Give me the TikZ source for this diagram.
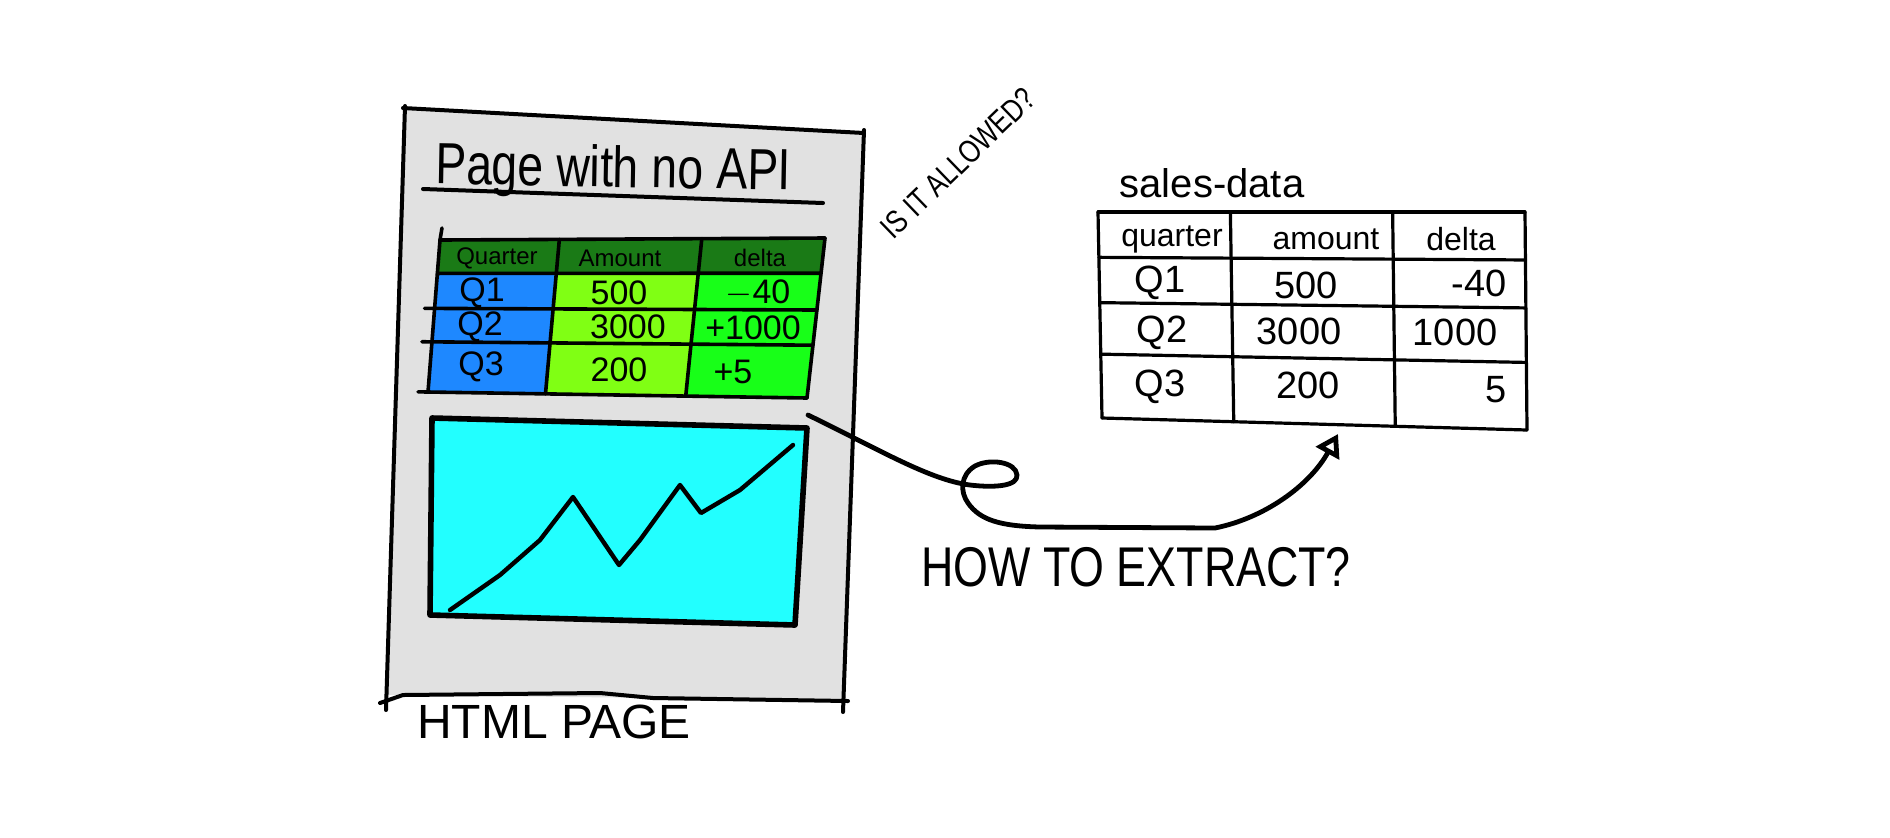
\documentclass[tikz,border=0pt]{standalone}
\usepackage{fontspec}
\setmainfont{Liberation Sans}
\newfontfamily\handc[FakeStretch=0.8]{Liberation Sans}
\usetikzlibrary{calc,arrows.meta}
\definecolor{pagegray}{RGB}{225,225,225}
\definecolor{hdrgreen}{RGB}{26,122,22}
\definecolor{qblue}{RGB}{30,136,255}
\definecolor{amtgreen}{RGB}{128,255,20}
\definecolor{dltgreen}{RGB}{24,255,24}
\definecolor{chartcyan}{RGB}{34,255,255}
\tikzset{
  ink/.style={draw=black, line join=round, line cap=round},
  lthead/.style={font=\fontsize{12}{12}\selectfont},
  ltcell/.style={font=\fontsize{17}{17}\selectfont},
  rthead/.style={font=\fontsize{16}{16}\selectfont},
  rtcell/.style={font=\fontsize{19}{19}\selectfont},
  bigcaps/.style={font=\handc\fontsize{28}{28}\selectfont},
}
\begin{document}
\begin{tikzpicture}[x=0.5pt,y=-0.5pt]
\useasboundingbox (0,0) rectangle (1890,837);
\fill[white] (0,0) rectangle (1890,837);

% ---------- HTML page ----------
\fill[pagegray] (404,108) -- (864,133) -- (844,700) -- (388,695) -- cycle;
\draw[ink, line width=2pt] (403,108) -- (864,133);
\draw[ink, line width=2pt] (864,130) -- (843,712);
\draw[ink, line width=2pt] (380,703) -- (403,695) -- (600,693) -- (653,698) -- (848,701);
\draw[ink, line width=2pt] (405,106) -- (386,710);
\node[font=\handc\fontsize{29}{30}\selectfont, anchor=base, rotate=-1] (title) at (613,187) {Page with no API};
\draw[ink, line width=2pt] (423,189) -- (823,203);
\node[font=\fontsize{24}{24}\selectfont] (htmllabel) at (554,722) {HTML PAGE};

% ---------- left table ----------
\coordinate (LTL) at (440,240); \coordinate (LTR) at (825,238);
\coordinate (LBL) at (428,392); \coordinate (LBR) at (807,398);
\foreach \ia/\ua in {0/0,1/0.31,2/0.68,3/1}{
  \foreach \ja/\va in {0/0,1/0.22,2/0.45,3/0.67,4/1}{
    \coordinate (L\ia\ja) at ($ ($(LTL)!\va!(LBL)$)!\ua!($(LTR)!\va!(LBR)$) $);
  }
}
\fill[hdrgreen] (L00) -- (L30) -- (L31) -- (L01) -- cycle;
\fill[qblue] (L01) -- (L11) -- (L14) -- (L04) -- cycle;
\fill[amtgreen] (L11) -- (L21) -- (L24) -- (L14) -- cycle;
\fill[dltgreen] (L21) -- (L31) -- (L34) -- (L24) -- cycle;
\foreach \ja in {0,1}{\draw[ink, line width=1.8pt] (L0\ja) -- (L3\ja);}
\foreach \ja in {2,3,4}{\draw[ink, line width=1.8pt, shorten <=-5pt] (L0\ja) -- (L3\ja);}
\foreach \ia in {0,1,2,3}{\draw[ink, line width=1.8pt] (L\ia0) -- (L\ia4);}
\draw[ink, line width=1.8pt] (442,228) -- (L00);
\node[lthead] (lq) at (497,258) {Quarter};
\node[lthead] (la) at (620,258) {Amount};
\node[lthead] (ld) at (760,258) {delta};
\node[ltcell] (lq1) at (482,293) {Q1};
\node[ltcell] (la1) at (619,293) {500};
\node[ltcell] (ld1) at (758,293) {$-$40};
\node[ltcell] (lq2) at (480,327) {Q2};
\node[ltcell] (la2) at (628,327) {3000};
\node[ltcell] (ld2) at (753,328) {+1000};
\node[ltcell] (lq3) at (481,367) {Q3};
\node[ltcell] (la3) at (619,370) {200};
\node[ltcell] (ld3) at (733,372) {+5};

% ---------- chart ----------
\filldraw[ink, fill=chartcyan, line width=2.8pt] (432,418) -- (807,428) -- (795,625) -- (430,615) -- cycle;
\draw[ink, line width=2.2pt] (450,610) -- (500,575) -- (540,540) -- (573,497) -- (619,565) -- (640,540) -- (680,485) -- (701,513) -- (740,490) -- (793,445);
\coordinate (chartNE) at (808,415);

% ---------- question ----------
\node[font=\handc\fontsize{16}{16}\selectfont, rotate=44] (allowed) at (958,163) {IS IT ALLOWED?};

% ---------- right table ----------
\node[font=\fontsize{20}{20}\selectfont, anchor=base] (salestitle) at (1212,197) {sales-data};
\coordinate (RTL) at (1098,212); \coordinate (RTR) at (1525,212);
\coordinate (RBL) at (1102,418); \coordinate (RBR) at (1527,430);
\foreach \ia/\ua in {0/0,1/0.31,2/0.69,3/1}{
  \foreach \ja/\va in {0/0,1/0.22,2/0.44,3/0.69,4/1}{
    \coordinate (R\ia\ja) at ($ ($(RTL)!\va!(RBL)$)!\ua!($(RTR)!\va!(RBR)$) $);
  }
}
\foreach \ja in {0,1,2,3,4}{\draw[ink, line width=1.6pt] (R0\ja) -- (R3\ja);}
\foreach \ia in {0,1,2,3}{\draw[ink, line width=1.6pt] (R\ia0) -- (R\ia4);}
\node[rthead] (rq) at (1172,239) {quarter};
\node[rthead] (ra) at (1326,239) {amount};
\node[rthead] (rd) at (1461,239) {delta};
\node[rtcell] (rq1) at (1160,283) {Q1};
\node[rtcell] (ra1) at (1306,285) {500};
\node[rtcell, anchor=east, inner xsep=0pt] (rd1) at (1507,283) {-40};
\node[rtcell] (rq2) at (1162,333) {Q2};
\node[rtcell] (ra2) at (1299,331) {3000};
\node[rtcell] (rd2) at (1455,332) {1000};
\node[rtcell] (rq3) at (1160,387) {Q3};
\node[rtcell] (ra3) at (1308,385) {200};
\node[rtcell, anchor=east, inner xsep=0pt] (rd3) at (1507,390) {5};
\coordinate (tip) at (1338,434);

% ---------- connector ----------
\draw[ink, line width=2.4pt, -{Triangle[open, length=11pt, width=13pt]}]
  (chartNE) .. controls (880,450) and (930,480) .. (970,485)
  .. controls (995,488) and (1018,486) .. (1017,475)
  .. controls (1016,462) and (990,458) .. (975,466)
  .. controls (960,475) and (960,492) .. (968,503)
  .. controls (980,520) and (1000,526) .. (1040,527)
  -- (1215,528)
  .. controls (1265,518) and (1310,485) .. (tip);
\node[bigcaps] (howto) at (1136,567) {HOW TO EXTRACT?};
\end{tikzpicture}
\end{document}
